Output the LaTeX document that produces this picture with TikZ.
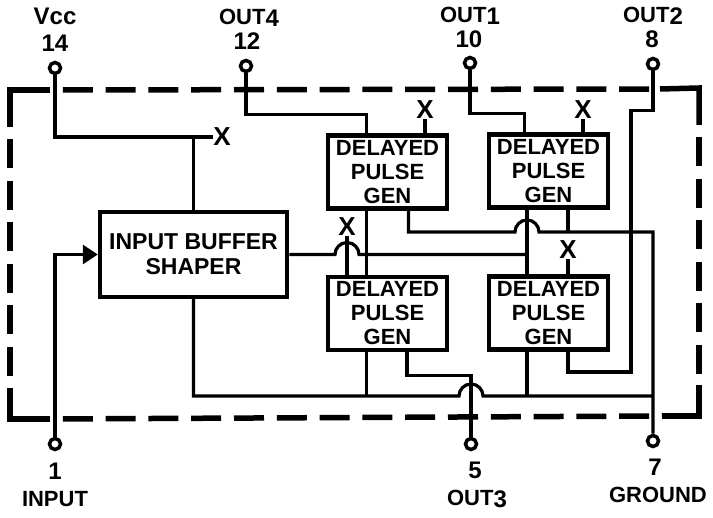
\documentclass[tikz,border=0pt]{standalone}
\usepackage{fontspec}
\setmainfont{Liberation Sans}
\usepackage{tikz}
\usetikzlibrary{arrows.meta}

\newcommand{\subnum}[1]{\raisebox{-2pt}{\fontsize{24}{24}\selectfont #1}}

\tikzset{
  wire/.style={line width=3.2pt},
  frameside/.style={line width=5.5pt},
  term/.style={circle,draw,fill=white,inner sep=0pt,minimum size=11pt,line width=3.5pt},
  labl/.style={anchor=base,inner sep=0pt,font=\fontsize{22}{24}\selectfont\bfseries},
  numl/.style={labl,font=\fontsize{24}{24}\selectfont\bfseries},
  gen/.style={draw,line width=4.5pt,align=center,inner sep=0pt,minimum width=119pt,minimum height=73pt,font=\fontsize{22}{24}\selectfont\bfseries},
  cross/.style={inner sep=0pt,font=\fontsize{26}{26}\selectfont\bfseries}
}

\begin{document}
\begin{tikzpicture}[x=1pt,y=-1pt]
        \useasboundingbox (0,0) rectangle (713,518);
        % package outline
        \draw[frameside] (10,127) -- (10,90) -- (50,90);
        \draw[frameside] (660,89) -- (699,88) -- (699,125);
        \draw[frameside] (699,385) -- (699,416) -- (662,416);
        \draw[frameside] (50,419) -- (10,419) -- (10,388);
        \draw[frameside,dash pattern=on 30pt off 12.8pt,dash phase=30pt] (50,90) -- (660,89);
        \draw[frameside,dash pattern=on 30pt off 12.8pt,dash phase=30pt] (50,419) -- (662,416);
        \draw[frameside,dash pattern=on 29pt off 12.5pt,dash phase=29pt] (10,127) -- (10,388);
        \draw[frameside,dash pattern=on 29pt off 12.5pt,dash phase=29pt] (699,125) -- (699,385);

        \node[draw,line width=4.5pt,align=center,inner sep=0pt,minimum width=187pt,minimum height=85pt,font=\fontsize{23}{25}\selectfont\bfseries] (buf) at (193.5,254.5) {INPUT BUFFER\\SHAPER};
        \node[gen] (gen4) at (387.5,172) {DELAYED\\PULSE\\GEN};
        \node[gen] (gen1) at (548.5,171) {DELAYED\\PULSE\\GEN};
        \node[gen] (gen3) at (387.5,313.5) {DELAYED\\PULSE\\GEN};
        \node[gen] (gen2) at (548.5,313) {DELAYED\\PULSE\\GEN};

        \node[term] (p14) at (55,68) {};
        \node[term] (p12) at (246,66) {};
        \node[term] (p10) at (470,63) {};
        \node[term] (p8) at (653,64) {};
        \node[term] (p1) at (55,444) {};
        \node[term] (p5) at (471,444) {};
        \node[term] (p7) at (653,441) {};

        \node[numl] (vcc) at (55,25) {Vcc};
        \node[numl] (n14) at (55,52) {14};
        \node[labl] (out4) at (249,25) {OUT\subnum{4}};
        \node[numl] (n12) at (247,50) {12};
        \node[labl] (out1) at (470,23) {OUT\subnum{1}};
        \node[numl] (n10) at (469,48) {10};
        \node[labl] (out2) at (653,23) {OUT\subnum{2}};
        \node[numl] (n8) at (652,48) {8};
        \node[numl] (n1) at (55,480) {1};
        \node[labl] (input) at (55,507) {INPUT};
        \node[numl] (n5) at (475,479) {5};
        \node[labl] (out3) at (477,506) {OUT\subnum{3}};
        \node[numl] (n7) at (655,476) {7};
        \node[labl] (ground) at (658,503) {GROUND};

        \node[cross] (xv) at (222,137) {X};
        \node[cross] (xa) at (425,110) {X};
        \node[cross] (xb) at (583,110) {X};
        \node[cross] (xc) at (347,227) {X};
        \node[cross] (xd) at (568,250) {X};

        \coordinate (hopa) at (347,254.5);
        \coordinate (hopb) at (527,232);
        \coordinate (hopc) at (471,396);
        \coordinate (gndtop) at (653,232);
        \coordinate (bend) at (631,372);

        \draw[wire] (p14.south) |- (xv.west);
        \draw[wire] (buf.north) -- (buf.north |- xv.west);
        \draw[wire] (p12.south) -- ++(0,41) -| ([xshift=-21pt]gen4.north);
        \draw[wire] (xa.south) -- (xa.south |- gen4.north);
        \draw[wire] (p10.south) -- ++(0,43) -| ([xshift=-24pt]gen1.north);
        \draw[wire] (xb.south) -- (xb.south |- gen1.north);
        \draw[wire] (p8.south) -- ++(0,39) -| (bend) -| ([xshift=19.5pt]gen2.south);

        \draw[wire] ([xshift=-21pt]gen4.south) -- ([xshift=-21pt]gen3.north);
        \draw[wire] ([xshift=-21.5pt]gen1.south) -- ([xshift=-21.5pt]gen2.north);
        \draw[wire] ([xshift=21pt]gen4.south) |- ([xshift=-12pt]hopb) arc[start angle=180,end angle=0,radius=12pt] -- (gndtop) -- (p7.north);
        \draw[wire] ([xshift=19.5pt]gen1.south) -- ([xshift=19.5pt]gen1.south |- hopb);
        \draw[wire] (xd.south) -- (xd.south |- gen2.north);
        \draw[wire] (xc.south) -- (xc.south |- gen3.north);
        \draw[wire] (buf.east) -- ([xshift=-12pt]hopa) arc[start angle=180,end angle=0,radius=12pt] -- ([xshift=-21.5pt]gen1.south |- hopa);

        \draw[wire] (buf.south) |- ([xshift=-12pt]hopc) arc[start angle=180,end angle=0,radius=12pt] -- (p7.north |- hopc);
        \draw[wire] ([xshift=-21pt]gen3.south) -- ([xshift=-21pt]gen3.south |- hopc);
        \draw[wire] ([xshift=-21.5pt]gen2.south) -- ([xshift=-21.5pt]gen2.south |- hopc);
        \draw[wire] ([xshift=19.5pt]gen3.south) -- ++(0,23) -| (p5.north);

        \draw[wire,-{Triangle[length=15pt,width=19pt]}] (p1.north) |- (buf.west);
        \end{tikzpicture}
\end{document}
